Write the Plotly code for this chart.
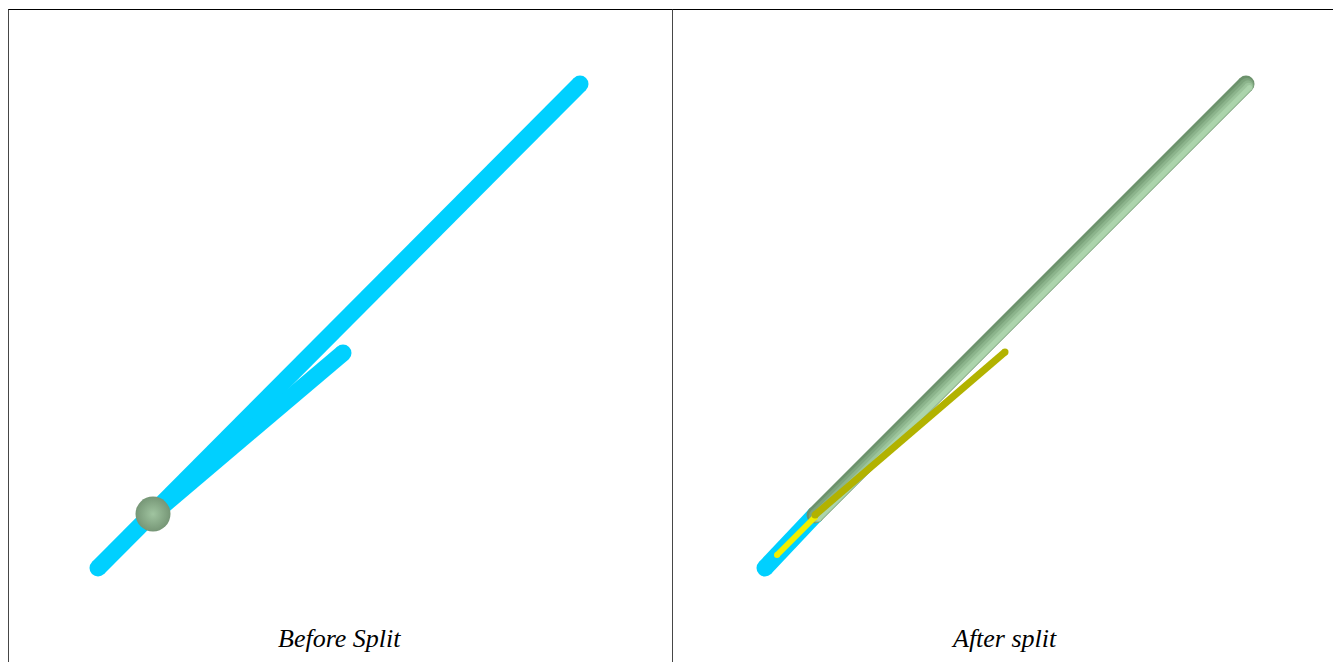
import plotly.graph_objects as go

W, H = 1341, 662
OFF = 8  # page body margin of the browser
# panel extents in screen pixels
P1 = (6, 672)
P2 = (672, 1336)
TOP = 9
TITLE_Y = 638

# ---- data (scene units) ----
# Before split
main_x = [92, 574]
main_y = [94, 578]
branch_x = [147, 337]
branch_y = [148, 309]
sphere_x = [147]
sphere_y = [148]

# After split
cyan_x = [93, 143]
cyan_y = [94, 147]
green_x = [143, 574]
green_y = [147, 578]
yellow_x = [105, 143]
yellow_y = [107, 145]
olive_x = [143, 333]
olive_y = [147, 310]

titles = ["Before Split", "After split"]

CYAN = "rgb(0,208,255)"
GREEN_SHADES = ["rgb(108,146,108)", "rgb(124,164,124)", "rgb(140,180,140)",
                "rgb(156,196,156)", "rgb(172,212,172)"]
YELLOW = "rgb(240,240,0)"
OLIVE = "rgb(178,178,0)"

fig = go.Figure()


def tube(xs, ys, color, width, xa, ya):
    fig.add_trace(go.Scatter(
        x=xs, y=ys, mode="lines+markers", xaxis=xa, yaxis=ya,
        line=dict(color=color, width=width),
        marker=dict(color=color, size=width, line=dict(width=0)),
        hoverinfo="skip", showlegend=False))


# left panel
tube(main_x, main_y, CYAN, 17, "x", "y")
tube(branch_x, branch_y, CYAN, 17, "x", "y")
fig.add_trace(go.Scatter(
    x=sphere_x, y=sphere_y, mode="markers", xaxis="x", yaxis="y",
    marker=dict(size=35, color="rgb(118,150,118)",
                gradient=dict(type="radial", color="rgb(160,196,160)"),
                line=dict(width=0)),
    hoverinfo="skip", showlegend=False))

# right panel
tube(cyan_x, cyan_y, CYAN, 17, "x2", "y2")
for k, c in enumerate(GREEN_SHADES):
    s = 0.9 * k
    tube([v + s for v in green_x], [v - s for v in green_y], c, 17 - 3 * k, "x2", "y2")
tube(yellow_x, yellow_y, YELLOW, 6, "x2", "y2")
tube(olive_x, olive_y, OLIVE, 7, "x2", "y2")


def fx(px):
    """screen x -> figure x"""
    return px - OFF


def panel_axes(p):
    a, b = fx(p[0]), fx(p[1])
    lo = max(a, 0)
    return [lo / W, b / W], [lo - a, b - a]


d1, r1 = panel_axes(P1)
d2, r2 = panel_axes(P2)
ytop_fig = TOP - OFF
ydom = [0, 1 - ytop_fig / H]
yrange = [-OFF, H - TOP]

ax = dict(visible=False, showgrid=False, zeroline=False, fixedrange=True)
fig.update_layout(
    width=W, height=H,
    margin=dict(l=0, r=0, t=0, b=0),
    paper_bgcolor="white", plot_bgcolor="white",
    xaxis=dict(domain=d1, range=r1, **ax),
    yaxis=dict(domain=ydom, range=yrange, **ax),
    xaxis2=dict(domain=d2, range=r2, **ax),
    yaxis2=dict(domain=ydom, range=yrange, anchor="x2", **ax),
    showlegend=False,
)

# panel frames
ytop = 1 - (ytop_fig + 0.5) / H
fig.add_shape(type="line", xref="paper", yref="paper",
              x0=0, x1=(fx(P2[1]) + 0.5) / W, y0=ytop, y1=ytop,
              line=dict(color="black", width=1))
for px in (P1[0], P1[1], P2[1]):
    xx = max(fx(px), 0) + 0.5
    fig.add_shape(type="line", xref="paper", yref="paper",
                  x0=xx / W, x1=xx / W, y0=-0.02, y1=ytop,
                  line=dict(color="rgb(70,70,70)", width=1))

# titles
for t, (a, b) in zip(titles, (P1, P2)):
    fig.add_annotation(
        x=(fx(a) + fx(b)) / 2 / W, y=1 - (TITLE_Y - OFF) / H,
        xref="paper", yref="paper",
        text=t, showarrow=False, xanchor="center", yanchor="middle",
        font=dict(family="Liberation Serif", size=26, color="black", style="italic"))

fig.write_html("out.html")
